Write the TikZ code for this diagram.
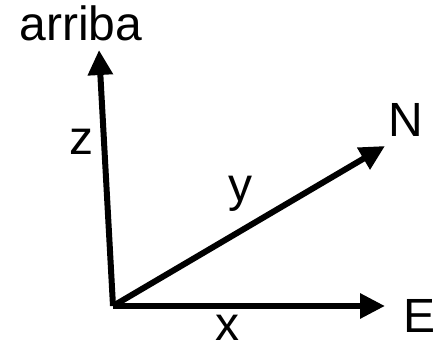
\documentclass[tikz,border=0pt]{standalone}
\usepackage{fontspec}
\setmainfont{Liberation Sans}
\usetikzlibrary{arrows.meta}

\begin{document}
\begin{tikzpicture}[x=1pt,y=1pt,
    axis/.style={line width=6pt, -{Triangle[length=25pt,width=24pt]}},
    lbl/.style={anchor=base, inner sep=0pt, font=\fontsize{48}{56}\selectfont}]
    \useasboundingbox (0,0) rectangle (441,345);

    % Axis end points
    \coordinate (o) at (113,39);
    \coordinate (up) at (99,295);
    \coordinate (north) at (385,199);
    \coordinate (east) at (385,39);

    % Draw the three axes
    \draw[axis] (o) -- (up);
    \draw[axis] (o) -- (north);
    \draw[axis] (o) -- (east);

    % Labels
    \node[lbl] (arriba) at (81,304) {arriba};
    \node[lbl] (z) at (81.5,190) {z};
    \node[lbl] (y) at (240,143) {y};
    \node[lbl] (x) at (227.5,5) {x};
    \node[lbl] (n) at (406,208) {N};
    \node[lbl] (e) at (420,13) {E};
\end{tikzpicture}
\end{document}
